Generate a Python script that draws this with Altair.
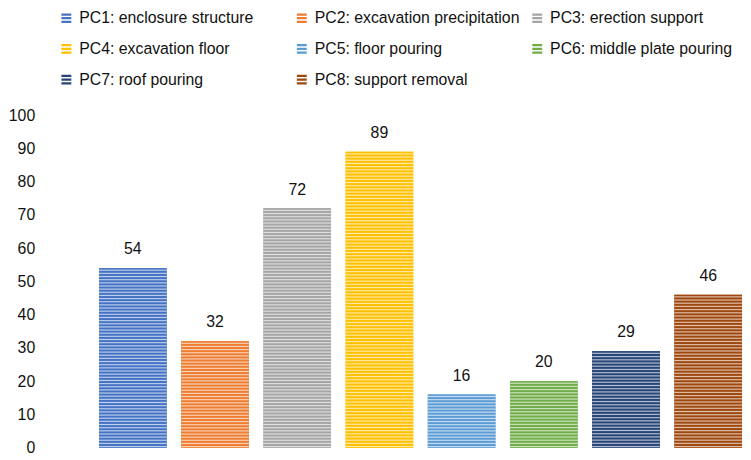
import altair as alt
import pandas as pd

categories = [
    "PC1: enclosure structure",
    "PC2: excavation precipitation",
    "PC3: erection support",
    "PC4: excavation floor",
    "PC5: floor pouring",
    "PC6: middle plate pouring",
    "PC7: roof pouring",
    "PC8: support removal",
]
values = [54, 32, 72, 89, 16, 20, 29, 46]
colors = ["#4472C4", "#ED7D31", "#A5A5A5", "#FFC000",
          "#5B9BD5", "#70AD47", "#264478", "#9E480E"]

df = pd.DataFrame({"cat": categories, "val": values})

PLOT_W, PLOT_H = 659, 336
FONT = "Liberation Sans"


def mix(hex_color, t):
    h = hex_color.lstrip("#")
    r, g, b = (int(h[i:i + 2], 16) for i in (0, 2, 4))
    r = round(r + (255 - r) * t)
    g = round(g + (255 - g) * t)
    b = round(b + (255 - b) * t)
    return "#{:02x}{:02x}{:02x}".format(r, g, b)


def stripes(color, value):
    # horizontal line pattern, one period about 3.2 px tall
    h = value / 100 * PLOT_H
    n = max(1, round(h / 3.2))
    dark = color
    light = mix(color, 0.68)
    stops = []
    for k in range(n):
        stops += [
            {"offset": k / n, "color": dark},
            {"offset": (k + 0.3) / n, "color": dark},
            {"offset": (k + 0.65) / n, "color": light},
        ]
    stops.append({"offset": 1, "color": dark})
    return {"gradient": "linear", "x1": 0, "y1": 0, "x2": 0, "y2": 1,
            "stops": stops}


x_enc = alt.X(
    "cat:N",
    sort=categories,
    axis=None,
    scale=alt.Scale(paddingInner=0.177, paddingOuter=0.054, align=0.89),
)
y_enc = alt.Y(
    "val:Q",
    scale=alt.Scale(domain=[0, 100], nice=False),
    axis=alt.Axis(
        values=list(range(0, 101, 10)),
        title=None,
        domain=False,
        ticks=False,
        tickSize=0,
        grid=False,
        labelPadding=57,
        labelFont=FONT,
        labelFontSize=16,
        labelColor="#111111",
    ),
)

stripe_path = "M-1,-1H1V-0.55H-1Z M-1,-0.25H1V0.2H-1Z M-1,0.5H1V0.95H-1Z"

base = alt.Chart(df).mark_bar().encode(
    x=x_enc,
    y=y_enc,
    color=alt.Color(
        "cat:N",
        sort=categories,
        scale=alt.Scale(domain=categories, range=colors),
        legend=alt.Legend(
            title=None,
            orient="none",
            direction="horizontal",
            legendX=-33,
            legendY=-106,
            columns=3,
            gridAlign="all",
            columnPadding=9,
            rowPadding=15,
            padding=0,
            symbolType=stripe_path,
            symbolSize=100,
            symbolStrokeWidth=0,
            labelFont=FONT,
            labelFontSize=16,
            labelColor="#111111",
            labelOffset=5,
            labelLimit=400,
        ),
    ),
)

layers = [base]
for c, v, col in zip(categories, values, colors):
    layers.append(
        alt.Chart(df)
        .transform_filter(alt.datum.cat == c)
        .mark_bar(fill=stripes(col, v), strokeWidth=0)
        .encode(x=x_enc, y=y_enc)
    )

labels = alt.Chart(df).mark_text(
    dy=-19, baseline="middle", align="center",
    font=FONT, fontSize=16, color="#111111",
).encode(x=x_enc, y=y_enc, text="val:Q")
layers.append(labels)

chart = (
    alt.layer(*layers)
    .properties(
        width=PLOT_W,
        height=PLOT_H,
        padding={"left": 84, "top": 106, "right": 0, "bottom": 10},
        autosize=alt.AutoSizeParams(type="none"),
    )
    .configure_view(stroke=None)
)

chart.save("out.html", embed_options={"renderer": "svg", "actions": False})
